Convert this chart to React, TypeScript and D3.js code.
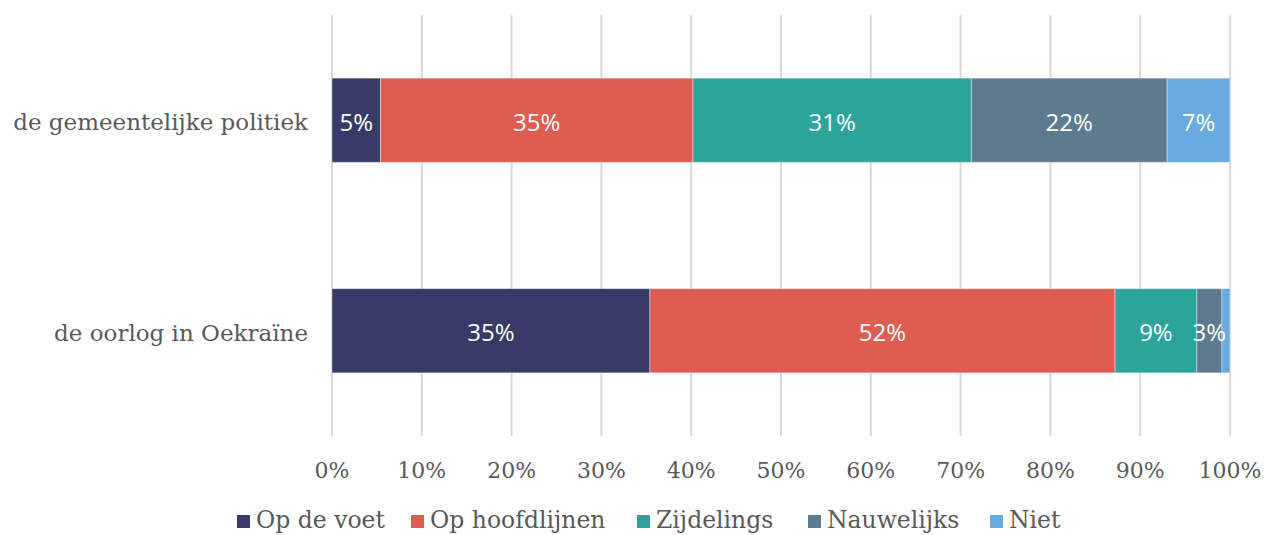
import React from "react";
import * as d3 from "d3";

const categories = ["de gemeentelijke politiek", "de oorlog in Oekraïne"];
const seriesNames = ["Op de voet", "Op hoofdlijnen", "Zijdelings", "Nauwelijks", "Niet"];
const seriesColors = ["#383B68", "#DE5C50", "#2BA59A", "#5E7A8F", "#67ABE0"];
const valuesGemeente = [5.4, 34.8, 31.0, 21.8, 7.0];
const valuesOekraine = [35.4, 51.8, 9.1, 2.8, 0.9];
const tickValues = [0, 10, 20, 30, 40, 50, 60, 70, 80, 90, 100];

const W = 1266;
const H = 535;
const textColor = "#595959";
const serif = "'DejaVu Serif', serif";
const sans = "'Open Sans', 'Noto Sans', sans-serif";

export default function App() {
  const x = d3.scaleLinear().domain([0, 100]).range([332, 1230]);
  const y = d3.scaleBand().domain(categories).range([15, 436]).paddingInner(0.6).paddingOuter(0.3);
  const rows = [valuesGemeente, valuesOekraine];

  const legendX = [237, 411, 637, 808, 990];

  return (
    <svg width={W} height={H} style={{ position: "absolute", left: 0, top: 0, background: "#fff" }}>
      {tickValues.map((t) => (
        <line key={t} x1={x(t)} x2={x(t)} y1={15} y2={436} stroke="#D9D9D9" strokeWidth={2} />
      ))}
      {categories.map((c, ci) => {
        const vals = rows[ci];
        const stacked = d3.cumsum([0, ...vals]);
        const y0 = y(c)!;
        const bh = y.bandwidth();
        return (
          <g key={c}>
            {vals.map((v, si) => {
              const x0 = x(stacked[si]);
              const x1 = x(stacked[si + 1]);
              return (
                <rect key={si} x={x0} y={y0} width={x1 - x0} height={bh} fill={seriesColors[si]} stroke="#fff" strokeOpacity={0.4} strokeWidth={1} />
              );
            })}
            {vals.map((v, si) => {
              if (Math.round(v) < 2) return null;
              const cx = (x(stacked[si]) + x(stacked[si + 1])) / 2;
              return (
                <text key={"t" + si} x={cx} y={y0 + bh / 2 + 2} dy="0.35em" textAnchor="middle" fill="#fff" fontFamily={sans} fontSize={24}>
                  {Math.round(v) + "%"}
                </text>
              );
            })}
            <text x={308} y={y0 + bh / 2 + 2} dy="0.35em" textAnchor="end" fill={textColor} fontFamily={serif} fontSize={23}>
              {c}
            </text>
          </g>
        );
      })}
      {tickValues.map((t) => (
        <text key={"tk" + t} x={x(t)} y={470} dy="0.35em" textAnchor="middle" fill={textColor} fontFamily={serif} fontSize={22}>
          {t + "%"}
        </text>
      ))}
      {seriesNames.map((s, i) => (
        <g key={s} transform={`translate(${legendX[i]},0)`}>
          <rect x={0} y={515} width={13} height={13} fill={seriesColors[i]} />
          <text x={19} y={528} fill={textColor} fontFamily={serif} fontSize={23.5}>
            {s}
          </text>
        </g>
      ))}
    </svg>
  );
}
